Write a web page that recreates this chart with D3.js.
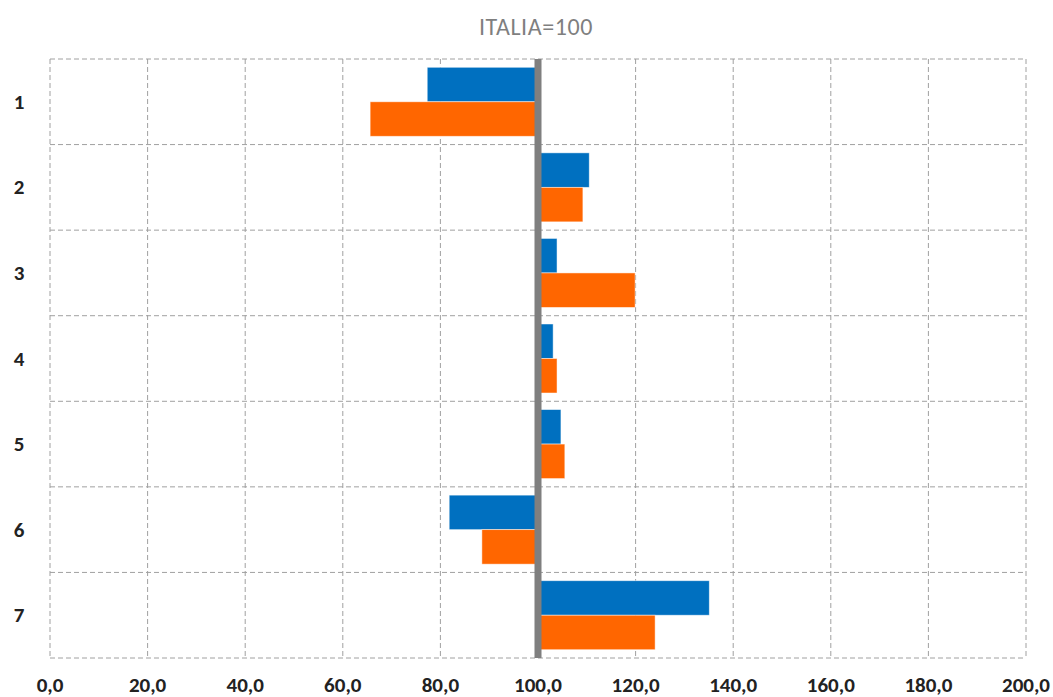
<!DOCTYPE html>
<html><head><meta charset="utf-8">
<script src="https://cdn.jsdelivr.net/npm/d3@7"></script>
<style>
html,body{margin:0;padding:0;background:#fff;}
svg{display:block;}
text{font-family:Carlito,Lato,"Open Sans",sans-serif;}
</style></head>
<body>
<svg id="chart" width="1053" height="697"></svg>
<script>
const categories = ["1","2","3","4","5","6","7"];
const seriesNames = ["A","B"];
const seriesBlue = [77.3, 110.5, 103.9, 103.1, 104.7, 81.8, 135.1];
const seriesOrange = [65.6, 109.2, 119.9, 103.9, 105.5, 88.5, 124.0];
const xTicks = [0,20,40,60,80,100,120,140,160,180,200];
const colors = ["#0070C0", "#FF6600"];
const baseValue = 100;
const title = "ITALIA=100";

const svg = d3.select("#chart");
const m = {left:50, right:27, top:59, bottom:39};
const W = 1053, H = 697;
const x = d3.scaleLinear().domain([0,200]).range([m.left, W - m.right]);
const y = d3.scaleBand().domain(categories).range([m.top, H - m.bottom]).paddingInner(0).paddingOuter(0);
const yInner = d3.scaleBand().domain(seriesNames).range([0, y.bandwidth()]).paddingOuter(0.24);

// grid
const grid = svg.append("g");
const dash = "5,3";
const gridColor = "#a0a0a0";
grid.selectAll("line.v").data(xTicks).enter().append("line")
  .attr("x1", d => x(d)).attr("x2", d => x(d))
  .attr("y1", m.top).attr("y2", H - m.bottom)
  .attr("stroke", gridColor).attr("stroke-width", 1).attr("stroke-dasharray", dash);
const hLines = categories.map(c => y(c)).concat([y(categories[categories.length-1]) + y.bandwidth()]);
grid.selectAll("line.h").data(hLines).enter().append("line")
  .attr("x1", m.left).attr("x2", W - m.right)
  .attr("y1", d => d).attr("y2", d => d)
  .attr("stroke", gridColor).attr("stroke-width", 1).attr("stroke-dasharray", dash);

// bars
const data = categories.map((c,i) => ({c, vals:[seriesBlue[i], seriesOrange[i]]}));
const g = svg.append("g");
data.forEach(d => {
  d.vals.forEach((v, j) => {
    const x0 = Math.min(x(v), x(baseValue)), x1 = Math.max(x(v), x(baseValue));
    g.append("rect")
      .attr("x", x0).attr("width", x1 - x0)
      .attr("y", y(d.c) + yInner(seriesNames[j])).attr("height", yInner.bandwidth())
      .attr("fill", colors[j]).attr("stroke", "rgba(255,255,255,0.6)").attr("stroke-width", 0.8);
  });
});

// baseline at 100
svg.append("line")
  .attr("x1", x(baseValue)).attr("x2", x(baseValue))
  .attr("y1", m.top).attr("y2", H - m.bottom)
  .attr("stroke", "#7f7f7f").attr("stroke-width", 7);

// x axis labels
const fmt = d => d3.format(".1f")(d).replace(".", ",");
svg.append("g").selectAll("text").data(xTicks).enter().append("text")
  .attr("x", d => x(d)).attr("y", 692)
  .attr("text-anchor", "middle").attr("font-size", 21).attr("font-weight", "bold")
  .attr("fill", "#222").text(fmt);

// y labels
svg.append("g").selectAll("text").data(categories).enter().append("text")
  .attr("x", 19).attr("y", d => y(d) + y.bandwidth()/2 + 7)
  .attr("text-anchor", "middle").attr("font-size", 21).attr("font-weight", "bold")
  .attr("fill", "#222").text(d => d);

// title
svg.append("text").attr("x", 536).attr("y", 35)
  .attr("text-anchor", "middle").attr("font-size", 24).attr("letter-spacing", 0.6)
  .attr("fill", "#7f7f7f").text(title);
</script>
</body></html>
